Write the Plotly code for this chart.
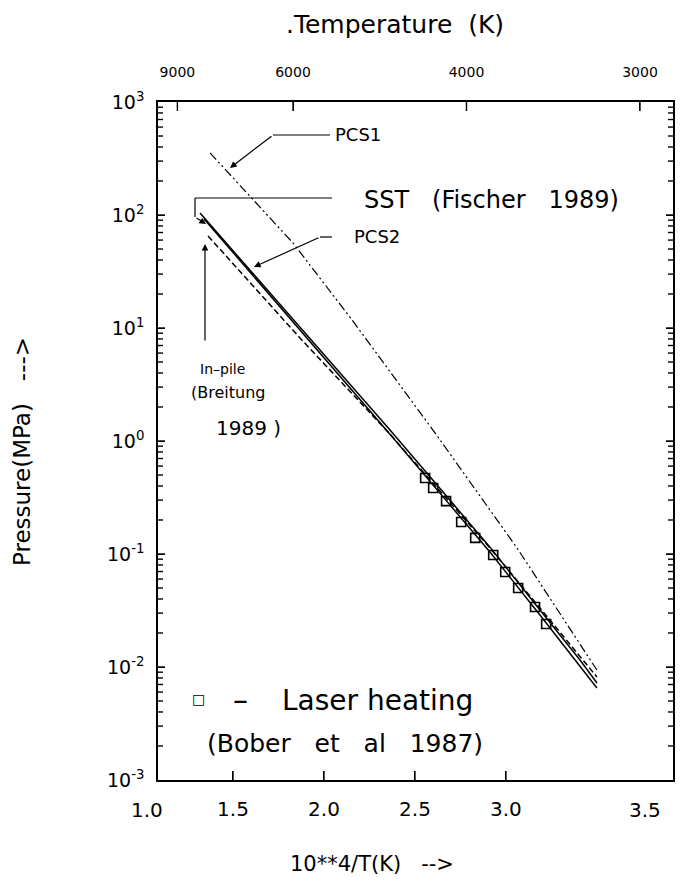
import math
import plotly.graph_objects as go

# ---- data (x = 10**4/T on the bottom scale, y = pressure in MPa) ----
pcs1_x = [1.374, 1.830, 2.154, 2.599, 3.061, 3.500]
pcs1_y = [354, 56.5, 11.8, 1.25, 0.113, 0.0094]
sst_x = [1.319, 1.868, 2.363, 2.692, 2.912, 3.187, 3.407, 3.500]
sst_y = [104, 10.2, 1.25, 0.30, 0.115, 0.0319, 0.01153, 0.00721]
pcs2_x = [1.341, 1.879, 2.363, 2.692, 2.912, 3.187, 3.407, 3.500]
pcs2_y = [92.3, 9.23, 1.15, 0.272, 0.104, 0.0288, 0.0102, 0.00652]
inpile_x = [1.363, 1.868, 2.363, 2.692, 2.912, 3.187, 3.407, 3.500]
inpile_y = [65.2, 8.17, 1.15, 0.283, 0.113, 0.0333, 0.01224, 0.00816]
laser_x = [2.556, 2.600, 2.671, 2.754, 2.831, 2.930, 2.996, 3.067, 3.160, 3.221]
laser_y = [0.471, 0.384, 0.294, 0.192, 0.139, 0.098, 0.0693, 0.050, 0.034, 0.024]

bottom_ticks = [1.5, 2.0, 2.5, 3.0]
bottom_text = ["1.5", "2.0", "2.5", "3.0"]
top_temps = [9000, 6000, 4000, 3000]
y_major = [1e-3, 1e-2, 1e-1, 1e0, 1e1, 1e2, 1e3]
y_major_text = ["10<sup>-3</sup>", "10<sup>-2</sup>", "10<sup>-1</sup>", "10<sup>0</sup>",
                "10<sup>1</sup>", "10<sup>2</sup>", "10<sup>3</sup>"]
y_minor = [k * 10 ** n for n in range(-3, 3) for k in range(2, 10)]

FONT = "DejaVu Sans"
L, R, T, B = 158, 673, 102, 780
X_RANGE = [1.088, 3.918]
X2_RANGE = [1.018, 3.492]
Y_RANGE = [-3, 3]


def px(p):
    return (p - L) / (R - L)


def py(p):
    return (B - p) / (B - T)


fig = go.Figure()
fig.add_trace(go.Scatter(x=pcs1_x, y=pcs1_y, mode="lines",
                         line=dict(color="black", width=1.2, dash="9px,3px,2px,3px,2px,3px")))
fig.add_trace(go.Scatter(x=sst_x, y=sst_y, mode="lines", line=dict(color="black", width=1.5)))
fig.add_trace(go.Scatter(x=pcs2_x, y=pcs2_y, mode="lines", line=dict(color="black", width=1.5)))
fig.add_trace(go.Scatter(x=inpile_x, y=inpile_y, mode="lines",
                         line=dict(color="black", width=1.5, dash="6px,3px")))
fig.add_trace(go.Scatter(x=laser_x, y=laser_y, mode="markers",
                         marker=dict(symbol="square-open", size=9, color="black",
                                     line=dict(width=1.6, color="black"))))
# carrier for the temperature axis on top
fig.add_trace(go.Scatter(x=[None], y=[None], xaxis="x2", yaxis="y", mode="lines",
                         hoverinfo="skip"))

axis_common = dict(showgrid=False, zeroline=False, showline=True, linecolor="black",
                   linewidth=1.5, ticks="inside", tickcolor="black", tickwidth=1.4)

fig.update_layout(
    width=695, height=885,
    margin=dict(l=L, r=695 - R, t=T, b=885 - B),
    plot_bgcolor="white", paper_bgcolor="white",
    showlegend=False,
    font=dict(family=FONT, color="black"),
    xaxis=dict(range=X_RANGE, tickvals=bottom_ticks, ticktext=bottom_text,
               tickfont=dict(size=20), ticklabelstandoff=10, ticklen=9, **axis_common),
    xaxis2=dict(overlaying="x", side="top", anchor="y",
                range=X2_RANGE,
                tickvals=[1e4 / t for t in top_temps], ticktext=[str(t) for t in top_temps],
                tickfont=dict(size=14), ticklabelstandoff=18, ticklen=9, **axis_common),
    yaxis=dict(type="log", range=Y_RANGE, tickvals=y_major, ticktext=y_major_text,
               tickfont=dict(size=19), mirror="ticks", ticklabelstandoff=8, ticklen=7,
               **axis_common),
)

ann = []


def text(s, x, y, size, xanchor="center"):
    ann.append(dict(text=s, x=px(x), y=py(y), xref="paper", yref="paper", showarrow=False,
                    xanchor=xanchor, yanchor="middle", font=dict(size=size, family=FONT)))


def arrow(x0, y0, x1, y1):
    ann.append(dict(text="", x=px(x1), y=py(y1), xref="paper", yref="paper",
                    ax=x0 - x1, ay=y0 - y1, axref="pixel", ayref="pixel",
                    showarrow=True, arrowhead=2, arrowsize=1.1, arrowwidth=1.2,
                    arrowcolor="black"))


text(".Temperature  (K)", 395, 24, 25)
text("1.0", 147, 810, 20)
text("3.5", 645, 810, 20)
text("10**4/T(K)   -->", 372, 864, 21)
ann.append(dict(text="Pressure(MPa)   --->", x=px(22), y=py(452), xref="paper", yref="paper",
                xanchor="center", yanchor="middle",
                showarrow=False, textangle=-90, font=dict(size=23, family=FONT)))
text("PCS1", 333, 135, 18, "left")
text("SST   (Fischer   1989)", 362, 200, 24, "left")
text("PCS2", 352, 237, 18, "left")
text("In\u2013pile", 222, 369, 14)
text("(Breitung", 228, 392, 16)
text("1989 )", 248, 428, 20)
text("\u25a1", 198, 699, 14)
text("\u2013", 240, 699, 30)
text("Laser heating", 280, 700, 28, "left")
text("(Bober   et   al   1987)", 205, 743, 25, "left")

arrow(273, 135, 230, 168)
arrow(195, 217, 206, 224)
arrow(320, 237, 254, 267)
arrow(205, 342, 205, 244)

line_style = dict(color="black", width=1.2)
shapes = [
    dict(type="line", xref="paper", yref="paper", x0=px(330), y0=py(135), x1=px(273), y1=py(135),
         line=line_style),
    dict(type="line", xref="paper", yref="paper", x0=px(332), y0=py(198), x1=px(195), y1=py(198),
         line=line_style),
    dict(type="line", xref="paper", yref="paper", x0=px(195), y0=py(198), x1=px(195), y1=py(217),
         line=line_style),
    dict(type="line", xref="paper", yref="paper", x0=px(332), y0=py(237), x1=px(320), y1=py(237),
         line=line_style),
]

# explicit tick marks (derived from the tick values and axis ranges)
W, H = R - L, B - T
tick_style = dict(color="black", width=1.4)


def yfrac(v):
    return (math.log10(v) - Y_RANGE[0]) / (Y_RANGE[1] - Y_RANGE[0])


for v, ln in [(v, 7) for v in y_major[1:-1]] + [(v, 5) for v in y_minor]:
    yy = yfrac(v)
    shapes.append(dict(type="line", xref="paper", yref="paper", x0=0, x1=ln / W,
                       y0=yy, y1=yy, line=tick_style, layer="above"))
    shapes.append(dict(type="line", xref="paper", yref="paper", x0=1 - ln / W, x1=1,
                       y0=yy, y1=yy, line=tick_style, layer="above"))
for v in bottom_ticks:
    xx = (v - X_RANGE[0]) / (X_RANGE[1] - X_RANGE[0])
    shapes.append(dict(type="line", xref="paper", yref="paper", x0=xx, x1=xx,
                       y0=0, y1=9 / H, line=tick_style, layer="above"))
for t in top_temps:
    xx = (1e4 / t - X2_RANGE[0]) / (X2_RANGE[1] - X2_RANGE[0])
    shapes.append(dict(type="line", xref="paper", yref="paper", x0=xx, x1=xx,
                       y0=1 - 9 / H, y1=1, line=tick_style, layer="above"))

fig.update_layout(annotations=ann, shapes=shapes)
fig.write_html("out.html")
